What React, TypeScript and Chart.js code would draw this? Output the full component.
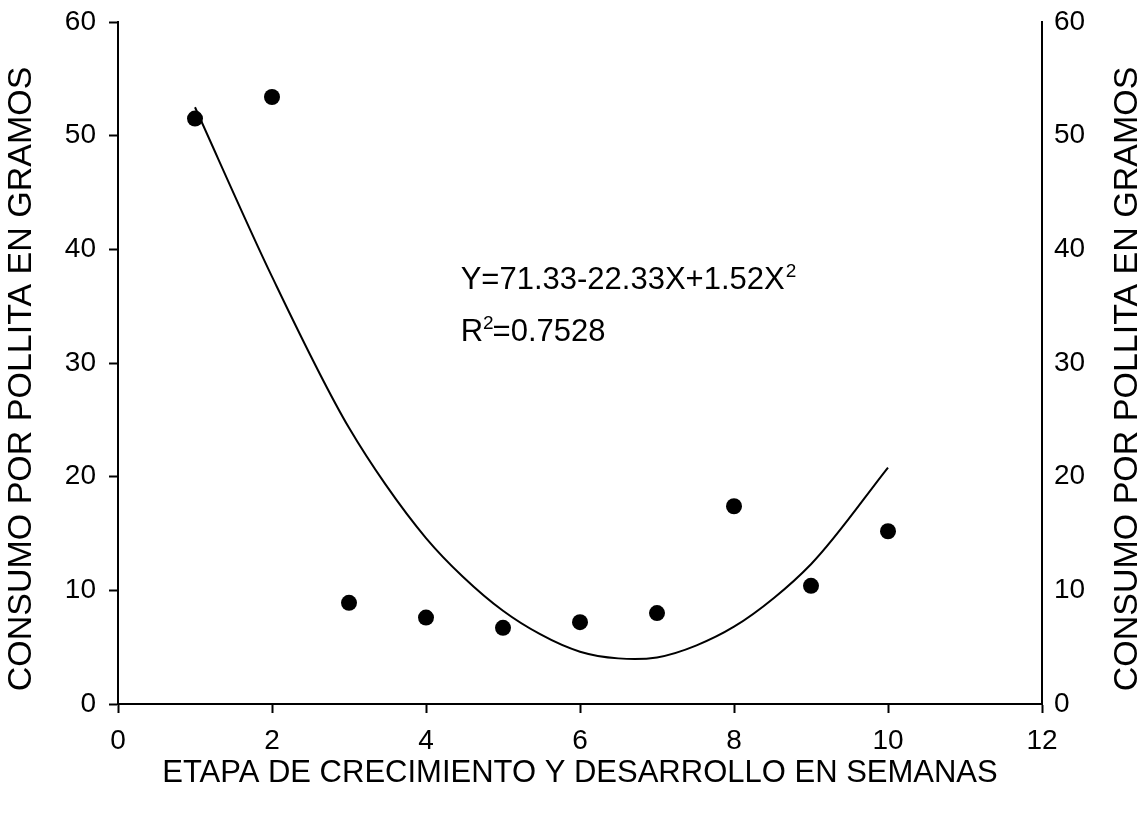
import React, { useEffect, useRef } from 'react';
import { Chart, registerables } from 'chart.js';

Chart.register(...registerables);

const weeks = [1, 2, 3, 4, 5, 6, 7, 8, 9, 10];
const observedConsumption = [51.5, 53.4, 8.9, 7.6, 6.7, 7.2, 8.0, 17.4, 10.4, 15.2];
const fittedConsumption = [52.5, 37.6, 24.3, 14.6, 8.2, 4.6, 4.1, 6.8, 12.3, 20.8];
const xTickValues = [0, 2, 4, 6, 8, 10, 12];
const yTickValues = [0, 10, 20, 30, 40, 50, 60];
const xAxisTitle = 'ETAPA DE CRECIMIENTO Y DESARROLLO EN SEMANAS';
const yAxisTitle = 'CONSUMO POR POLLITA EN GRAMOS';
const equationMain = 'Y=71.33-22.33X+1.52X';
const equationSup = '2';
const r2Prefix = 'R';
const r2Sup = '2';
const r2Rest = '=0.7528';

const FONT = "'Liberation Sans', Arial, Helvetica, sans-serif";

const annotationPlugin = {
  id: 'equationText',
  afterDraw(chart: any) {
    const { ctx } = chart;
    const xs = chart.scales.x;
    const ys = chart.scales.y;
    const x0 = xs.getPixelForValue(4.45);
    const yLine1 = ys.getPixelForValue(36.5);
    const yLine2 = ys.getPixelForValue(31.9);
    ctx.save();
    ctx.fillStyle = '#000';
    ctx.textBaseline = 'alphabetic';
    ctx.textAlign = 'left';
    ctx.font = `31px ${FONT}`;
    ctx.fillText(equationMain, x0, yLine1);
    let w = ctx.measureText(equationMain).width;
    ctx.font = `19px ${FONT}`;
    ctx.fillText(equationSup, x0 + w + 1, yLine1 - 12);

    ctx.font = `31px ${FONT}`;
    ctx.fillText(r2Prefix, x0, yLine2);
    w = ctx.measureText(r2Prefix).width;
    ctx.font = `19px ${FONT}`;
    ctx.fillText(r2Sup, x0 + w, yLine2 - 12);
    const w2 = ctx.measureText(r2Sup).width;
    ctx.font = `31px ${FONT}`;
    ctx.fillText(r2Rest, x0 + w + w2 - 1, yLine2);

    // vertical axis titles (both read bottom-to-top)
    const midY = 379;
    ctx.font = `34px ${FONT}`;
    ctx.textAlign = 'center';
    ctx.textBaseline = 'middle';
    [22, chart.width - 20].forEach((cx) => {
      ctx.save();
      ctx.translate(cx, midY);
      ctx.rotate(-Math.PI / 2);
      ctx.fillText(yAxisTitle, 0, 0);
      ctx.restore();
    });
    ctx.restore();
  },
};

const fixVertical = (width: number) => (scale: any) => {
  scale.width = width;
  scale.paddingTop = 0;
  scale.paddingBottom = 0;
};

export default function App() {
  const canvasRef = useRef<HTMLCanvasElement | null>(null);

  useEffect(() => {
    const canvas = canvasRef.current;
    if (!canvas) return;
    const chart = new Chart(canvas, {
      type: 'scatter',
      data: {
        datasets: [
          {
            label: 'Ajuste',
            data: weeks.map((w, i) => ({ x: w, y: fittedConsumption[i] })),
            showLine: true,
            borderColor: '#000',
            borderWidth: 2,
            pointRadius: 0,
            tension: 0.3,
            fill: false,
            yAxisID: 'y',
          },
          {
            label: 'Observado',
            data: weeks.map((w, i) => ({ x: w, y: observedConsumption[i] })),
            showLine: false,
            backgroundColor: '#000',
            borderColor: '#000',
            borderWidth: 0,
            pointRadius: 8,
            pointStyle: 'circle',
            yAxisID: 'y',
          },
        ],
      },
      options: {
        animation: false,
        responsive: true,
        maintainAspectRatio: false,
        layout: { padding: { top: 22, left: 0, right: 0, bottom: 0 } },
        plugins: {
          legend: { display: false },
          tooltip: { enabled: false },
          title: { display: false },
        },
        scales: {
          x: {
            type: 'linear',
            position: 'bottom',
            min: 0,
            max: 12,
            afterBuildTicks: (scale: any) => {
              scale.ticks = xTickValues.map((v) => ({ value: v }));
            },
            afterFit: (scale: any) => {
              scale.height = 111;
            },
            grid: {
              display: true,
              drawOnChartArea: false,
              drawTicks: true,
              tickLength: 9,
              tickWidth: 2,
              tickColor: '#000',
              color: '#000',
            },
            border: { display: true, color: '#000', width: 2 },
            ticks: {
              color: '#000',
              padding: 11,
              font: { family: FONT, size: 28 },
              maxRotation: 0,
            },
            title: {
              display: true,
              text: xAxisTitle,
              color: '#000',
              font: { family: FONT, size: 31 },
              padding: { top: 0, bottom: 23 },
            },
          },
          y: {
            type: 'linear',
            position: 'left',
            min: 0,
            max: 60,
            afterBuildTicks: (scale: any) => {
              scale.ticks = yTickValues.map((v) => ({ value: v }));
            },
            afterFit: fixVertical(118),
            grid: {
              display: true,
              drawOnChartArea: false,
              drawTicks: true,
              tickLength: 9,
              tickWidth: 2,
              tickColor: '#000',
              color: '#000',
            },
            border: { display: true, color: '#000', width: 2 },
            ticks: {
              color: '#000',
              padding: 13,
              font: { family: FONT, size: 28 },
            },
            title: { display: false },
          },
          y2: {
            type: 'linear',
            position: 'right',
            min: 0,
            max: 60,
            afterBuildTicks: (scale: any) => {
              scale.ticks = yTickValues.map((v) => ({ value: v }));
            },
            afterFit: fixVertical(106),
            grid: { display: false, drawOnChartArea: false, drawTicks: false },
            border: { display: true, color: '#000', width: 2 },
            ticks: {
              color: '#000',
              padding: 12,
              font: { family: FONT, size: 28 },
            },
            title: { display: false },
          },
        },
      },
      plugins: [annotationPlugin],
    });
    return () => chart.destroy();
  }, []);

  return (
    <div
      style={{
        position: 'fixed',
        left: 0,
        top: 0,
        width: 1148,
        height: 815,
        background: '#fff',
      }}
    >
      <canvas ref={canvasRef} />
    </div>
  );
}
